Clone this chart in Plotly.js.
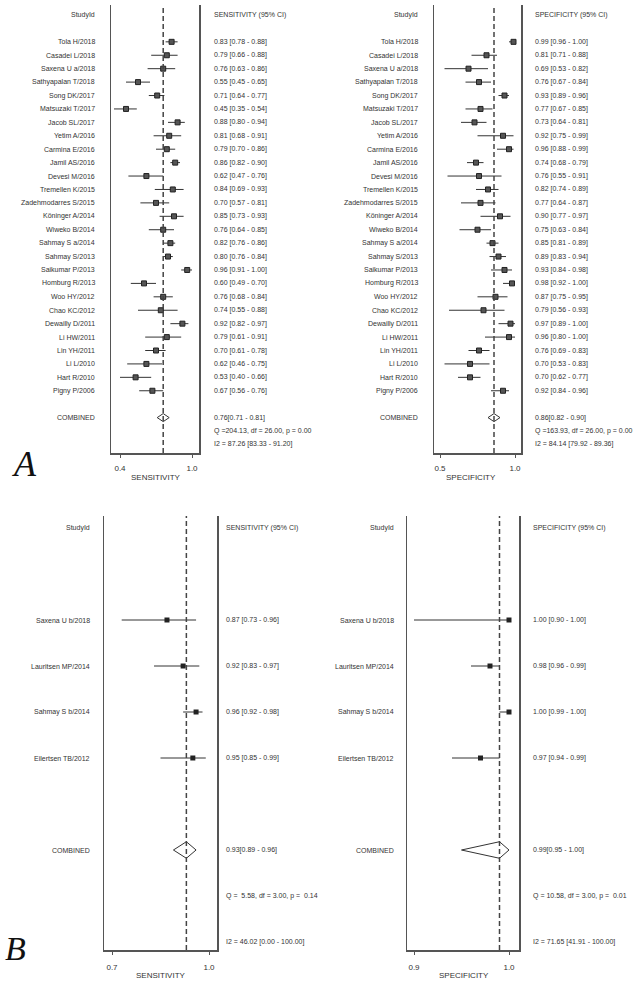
<!DOCTYPE html>
<html><head><meta charset="utf-8">
<script src="https://cdn.plot.ly/plotly-3.0.1.min.js"></script>
<style>html,body{margin:0;padding:0;background:#fff}</style>
</head><body><div id="chart" style="width:643px;height:982px"></div>
<script>
// ---------------- DATA ----------------
const studiesA = ["Tola H/2018","Casadei L/2018","Saxena U a/2018","Sathyapalan T/2018","Song DK/2017","Matsuzaki T/2017","Jacob SL/2017","Yetim A/2016","Carmina E/2016","Jamil AS/2016","Devesi M/2016","Tremellen K/2015","Zadehmodarres S/2015","Köninger A/2014","Wiweko B/2014","Sahmay S a/2014","Sahmay S/2013","Saikumar P/2013","Homburg R/2013","Woo HY/2012","Chao KC/2012","Dewailly D/2011","Li HW/2011","Lin YH/2011","Li L/2010","Hart R/2010","Pigny P/2006"];
const sensA   = [0.83,0.79,0.76,0.55,0.71,0.45,0.88,0.81,0.79,0.86,0.62,0.84,0.70,0.85,0.76,0.82,0.80,0.96,0.60,0.76,0.74,0.92,0.79,0.70,0.62,0.53,0.67];
const sensALo = [0.78,0.66,0.63,0.45,0.64,0.35,0.80,0.68,0.70,0.82,0.47,0.69,0.57,0.73,0.64,0.76,0.76,0.91,0.49,0.68,0.55,0.82,0.61,0.61,0.46,0.40,0.56];
const sensAHi = [0.88,0.88,0.86,0.65,0.77,0.54,0.94,0.91,0.86,0.90,0.76,0.93,0.81,0.93,0.85,0.86,0.84,1.00,0.70,0.84,0.88,0.97,0.91,0.78,0.75,0.66,0.76];
const specA   = [0.99,0.81,0.69,0.76,0.93,0.77,0.73,0.92,0.96,0.74,0.76,0.82,0.77,0.90,0.75,0.85,0.89,0.93,0.98,0.87,0.79,0.97,0.96,0.76,0.70,0.70,0.92];
const specALo = [0.96,0.71,0.53,0.67,0.89,0.67,0.64,0.75,0.88,0.68,0.55,0.74,0.64,0.77,0.63,0.81,0.83,0.84,0.92,0.75,0.56,0.89,0.80,0.69,0.53,0.62,0.84];
const specAHi = [1.00,0.88,0.82,0.84,0.96,0.85,0.81,0.99,0.99,0.79,0.91,0.89,0.87,0.97,0.84,0.89,0.94,0.98,1.00,0.95,0.93,1.00,1.00,0.83,0.83,0.77,0.96];
const combSensA = [0.76, 0.71, 0.81];
const combSpecA = [0.86, 0.82, 0.90];
const statsSensA = ["Q =204.13, df = 26.00, p = 0.00", "I2 = 87.26 [83.33 - 91.20]"];
const statsSpecA = ["Q =163.93, df = 26.00, p = 0.00", "I2 = 84.14 [79.92 - 89.36]"];

const studiesB = ["Saxena U b/2018","Lauritsen MP/2014","Sahmay S b/2014","Eilertsen TB/2012"];
const sensB   = [0.87,0.92,0.96,0.95];
const sensBLo = [0.73,0.83,0.92,0.85];
const sensBHi = [0.96,0.97,0.98,0.99];
const specB   = [1.00,0.98,1.00,0.97];
const specBLo = [0.90,0.96,0.99,0.94];
const specBHi = [1.00,0.99,1.00,0.99];
const combSensB = [0.93, 0.89, 0.96];
const combSpecB = [0.99, 0.95, 1.00];
const statsSensB = ["Q =  5.58, df = 3.00, p =  0.14", "I2 = 46.02 [0.00 - 100.00]"];
const statsSpecB = ["Q = 10.58, df = 3.00, p =  0.01", "I2 = 71.65 [41.91 - 100.00]"];

const ticksSensA = [0.4, 1.0], ticksSpecA = [0.5, 1.0], ticksSensB = [0.7, 1.0], ticksSpecB = [0.9, 1.0];

// ---------------- LAYOUT HELPERS ----------------
const W = 643, H = 982;
const FONT = "Liberation Sans, Arial, sans-serif";
const TXT = "#333";
function px(x){ return x / W; }
function py(y){ return 1 - y / H; }
function xr(t0, p0, t1, p1, left, right){
  const s = (p1 - p0) / (t1 - t0);
  return [t0 - (p0 - left) / s, t1 + (right - p1) / s];
}

const panels = [
  {k:'', studies:studiesA, est:sensA, lo:sensALo, hi:sensAHi, comb:combSensA, stats:statsSensA, ticks:ticksSensA,
   box:[111,199], tp:[120,192], yTop:5, yBot:453, row0:15, step:13.42, first:2, combRow:30,
   labelR:97, valL:212, head:"SENSITIVITY (95% CI)", title:"SENSITIVITY", titleX:156, titleY:477, dh:0.3, ms:5, big:false},
  {k:'2', studies:studiesA, est:specA, lo:specALo, hi:specAHi, comb:combSpecA, stats:statsSpecA, ticks:ticksSpecA,
   box:[434,521], tp:[440,515], yTop:5, yBot:453, row0:15, step:13.42, first:2, combRow:30,
   labelR:420, valL:533, head:"SPECIFICITY (95% CI)", title:"SPECIFICITY", titleX:471, titleY:477, dh:0.3, ms:5, big:false},
  {k:'3', studies:studiesB, est:sensB, lo:sensBLo, hi:sensBHi, comb:combSensB, stats:statsSensB, ticks:ticksSensB,
   box:[104,217], tp:[112,209], yTop:516, yBot:950, row0:528, step:46, first:2, combRow:7,
   labelR:92, valL:224, head:"SENSITIVITY (95% CI)", title:"SENSITIVITY", titleX:161, titleY:975, dh:0.18, ms:5, big:true},
  {k:'4', studies:studiesB, est:specB, lo:specBLo, hi:specBHi, comb:combSpecB, stats:statsSpecB, ticks:ticksSpecB,
   box:[407,519], tp:[414,509], yTop:516, yBot:950, row0:528, step:46, first:2, combRow:7,
   labelR:396, valL:531, head:"SPECIFICITY (95% CI)", title:"SPECIFICITY", titleX:464, titleY:975, dh:0.18, ms:5, big:true}
];

const traces = [], annotations = [], shapes = [];
const layout = {
  width: W, height: H, margin:{l:0,r:0,t:0,b:0}, showlegend:false,
  paper_bgcolor:'#fff', plot_bgcolor:'rgba(0,0,0,0)', font:{family:FONT, color:TXT, size:7}
};
const fmt = v => v.toFixed(2);

panels.forEach(p => {
  const xa = 'x' + p.k, ya = 'y' + p.k;
  const xName = 'xaxis' + p.k, yName = 'yaxis' + p.k;
  layout[xName] = {
    domain:[px(p.box[0]), px(p.box[1])], anchor: ya,
    range: xr(p.ticks[0], p.tp[0], p.ticks[1], p.tp[1], p.box[0], p.box[1]),
    tickvals: p.ticks, ticktext: p.ticks.map(v => v.toFixed(1)),
    ticks:'outside', ticklen:3, tickwidth:1, tickcolor:'#555', ticklabelstandoff: p.big ? 6 : 4,
    tickfont:{size:8, color:TXT, family:FONT},
    showline:true, linecolor:'#555', linewidth:1.5, mirror:false,
    showgrid:false, zeroline:false, fixedrange:true
  };
  layout[yName] = {
    domain:[py(p.yBot), py(p.yTop)], anchor: xa,
    range:[(p.yBot - p.row0)/p.step, (p.yTop - p.row0)/p.step],
    showline:true, linecolor:'#555', linewidth:1.5, mirror:true,
    showticklabels:false, ticks:'', showgrid:false, zeroline:false, fixedrange:true
  };
  const rows = p.studies.map((_, i) => p.first + i);
  traces.push({
    type:'scatter', mode:'markers', xaxis:xa, yaxis:ya,
    x:p.est, y:rows,
    marker:{symbol:'square', size:p.ms, color: p.big ? '#222' : '#555', line:{color:'#222', width:p.big?0:1}},
    error_x:{type:'data', symmetric:false,
      array:p.est.map((v,i) => p.hi[i] - v), arrayminus:p.est.map((v,i) => v - p.lo[i]),
      width:0, thickness:1, color:'#333'},
    hoverinfo:'skip'
  });
  const r = p.combRow;
  traces.push({
    type:'scatter', mode:'lines', xaxis:xa, yaxis:ya,
    x:[p.comb[1], p.comb[0], p.comb[2], p.comb[0], p.comb[1]],
    y:[r, r - p.dh, r, r + p.dh, r],
    line:{color:'#333', width:1}, hoverinfo:'skip'
  });
  shapes.push({type:'line', xref:xa, yref:ya + ' domain', x0:p.comb[0], x1:p.comb[0], y0:0, y1:1,
    line:{color:'#444', width:1.5, dash:'5px,3px'}});
  annotations.push({xref:'paper', yref:ya, x:px(p.labelR), y:0, xanchor:'right', yanchor:'middle', text:'StudyId', showarrow:false, font:{size:7, color:TXT}});
  annotations.push({xref:'paper', yref:ya, x:px(p.valL), y:0, xanchor:'left', yanchor:'middle', text:p.head, showarrow:false, font:{size:7, color:TXT}});
  p.studies.forEach((s, i) => {
    annotations.push({xref:'paper', yref:ya, x:px(p.labelR), y:rows[i], xanchor:'right', yanchor:'middle', text:s, showarrow:false, font:{size:7, color:TXT}});
    annotations.push({xref:'paper', yref:ya, x:px(p.valL), y:rows[i], xanchor:'left', yanchor:'middle',
      text: fmt(p.est[i]) + ' [' + fmt(p.lo[i]) + ' - ' + fmt(p.hi[i]) + ']', showarrow:false, font:{size:7, color:TXT}});
  });
  annotations.push({xref:'paper', yref:ya, x:px(p.labelR), y:r, xanchor:'right', yanchor:'middle', text:'COMBINED', showarrow:false, font:{size:7, color:TXT}});
  annotations.push({xref:'paper', yref:ya, x:px(p.valL), y:r, xanchor:'left', yanchor:'middle',
    text: fmt(p.comb[0]) + '[' + fmt(p.comb[1]) + ' - ' + fmt(p.comb[2]) + ']', showarrow:false, font:{size:7, color:TXT}});
  annotations.push({xref:'paper', yref:ya, x:px(p.valL), y:r + 1, xanchor:'left', yanchor:'middle', text:p.stats[0], showarrow:false, font:{size:7, color:TXT}});
  annotations.push({xref:'paper', yref:ya, x:px(p.valL), y:r + 2, xanchor:'left', yanchor:'middle', text:p.stats[1], showarrow:false, font:{size:7, color:TXT}});
  annotations.push({xref:'paper', yref:'paper', x:px(p.titleX), y:py(p.titleY), xanchor:'center', yanchor:'middle', text:p.title, showarrow:false, font:{size:8, color:TXT}});
});

annotations.push({xref:'paper', yref:'paper', x:px(24), y:py(464), xanchor:'center', yanchor:'middle', text:'<i>A</i>', showarrow:false, font:{size:36, color:'#111', family:'Liberation Serif, Times New Roman, serif'}});
annotations.push({xref:'paper', yref:'paper', x:px(15), y:py(948), xanchor:'center', yanchor:'middle', text:'<i>B</i>', showarrow:false, font:{size:34, color:'#111', family:'Liberation Serif, Times New Roman, serif'}});

layout.annotations = annotations;
layout.shapes = shapes;
Plotly.newPlot('chart', traces, layout, {staticPlot:true, displayModeBar:false});
</script>
</body></html>
